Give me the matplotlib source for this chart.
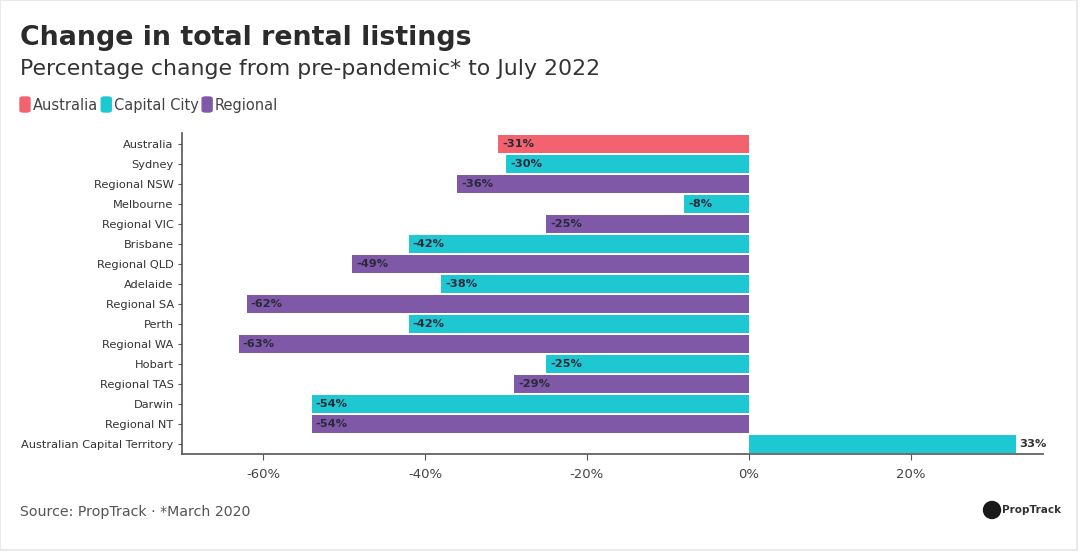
import matplotlib
matplotlib.use("Agg")
import matplotlib.pyplot as plt
from matplotlib.patches import Ellipse, FancyBboxPatch, Rectangle

plt.rcParams['font.family'] = ['DejaVu Sans']

regions = ["Australia", "Sydney", "Regional NSW", "Melbourne", "Regional VIC",
           "Brisbane", "Regional QLD", "Adelaide", "Regional SA", "Perth",
           "Regional WA", "Hobart", "Regional TAS", "Darwin", "Regional NT",
           "Australian Capital Territory"]
values = [-31, -30, -36, -8, -25, -42, -49, -38, -62, -42, -63, -25, -29, -54, -54, 33]
groups = ["Australia", "Capital City", "Regional", "Capital City", "Regional",
          "Capital City", "Regional", "Capital City", "Regional", "Capital City",
          "Regional", "Capital City", "Regional", "Capital City", "Regional",
          "Capital City"]
group_names = ["Australia", "Capital City", "Regional"]
group_colors = {"Australia": "#F2636F", "Capital City": "#1DC8D3", "Regional": "#8058A8"}
xticks = [-60, -40, -20, 0, 20]

fig = plt.figure(figsize=(10.8, 5.52), dpi=100)
W, H = 1080, 552
ax = fig.add_axes([182 / W, 1 - 454 / H, (1043 - 182) / W, (454 - 133) / H])

ypos = list(range(len(regions)))
for y, v, g in zip(ypos, values, groups):
    ax.barh(y, v, height=0.88, color=group_colors[g], edgecolor='none')
    if v < 0:
        ax.text(v + 0.5, y, f"{v}%", ha='left', va='center', fontsize=8.2,
                fontweight='bold', color='#2a2a3a')
    else:
        ax.text(v + 0.3, y, f"{v}%", ha='left', va='center', fontsize=8.2,
                fontweight='bold', color='#333333')

ax.set_xlim(-70, 36.3)
ax.set_ylim(len(regions) - 0.5, -0.55)
ax.set_yticks(ypos)
ax.set_yticklabels(regions, fontsize=8.2, color='#333333')
ax.set_xticks(xticks)
ax.set_xticklabels([f"{t}%" for t in xticks], fontsize=9.5, color='#444444')
for s in ['top', 'right']:
    ax.spines[s].set_visible(False)
for s in ['left', 'bottom']:
    ax.spines[s].set_color('#555555')
    ax.spines[s].set_linewidth(1.2)
ax.tick_params(axis='y', length=3, width=0.8, color='#555555', pad=3)
ax.tick_params(axis='x', length=4, width=0.8, color='#555555', pad=6)

fig.text(20 / W, 1 - 38 / H, "Change in total rental listings", fontsize=19.3,
         fontweight='bold', color='#2b2b2b', va='center', ha='left')
fig.text(20 / W, 1 - 69 / H, "Percentage change from pre-pandemic* to July 2022",
         fontsize=15.8, color='#333333', va='center', ha='left')

# legend
x = 20
for g in group_names:
    fig.patches.append(FancyBboxPatch((x / W, 1 - 112 / H), 10 / W, 15 / H,
                                      boxstyle="round,pad=0,rounding_size=0.003",
                                      transform=fig.transFigure, color=group_colors[g]))
    t = fig.text((x + 13) / W, 1 - 105 / H, g, fontsize=10.5, color='#444444',
                 va='center', ha='left')
    fig.canvas.draw()
    bb = t.get_window_extent()
    x = bb.x1 + 3

fig.text(20 / W, 1 - 512 / H, "Source: PropTrack · *March 2020", fontsize=10.2,
         color='#555555', va='center', ha='left')

# logo
fig.patches.append(Ellipse((992 / W, 1 - 510 / H), 17 / W, 17 / H,
                           transform=fig.transFigure, color='#1a1a1a'))
fig.text(1002 / W, 1 - 510 / H, "PropTrack", fontsize=7.5, fontweight='bold',
         color='#333333', va='center', ha='left')

# faint frame
fig.patches.append(Rectangle((0, 2 / H), 1077 / W, 1 - 2 / H, transform=fig.transFigure,
                             fill=False, edgecolor='#e6e6e6', linewidth=1.2))

fig.savefig("out.png", dpi=100, facecolor='white')
